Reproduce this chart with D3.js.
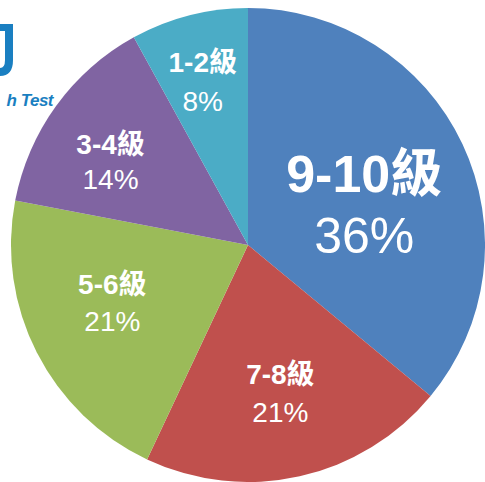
<!DOCTYPE html>
<html>
<head>
<meta charset="utf-8">
<script src="https://cdn.jsdelivr.net/npm/d3@7"></script>
<style>
  html, body { margin: 0; padding: 0; background: #fff; }
  svg { display: block; }
  text { font-family: "Liberation Sans", Arial, "Noto Sans CJK TC", sans-serif; }
</style>
</head>
<body>
<svg id="chart" width="485" height="482"></svg>
<script>
// grade bands, clockwise from 12 o'clock
const categories = ['9-10級', '7-8級', '5-6級', '3-4級', '1-2級'];
const shares = [36, 21, 21, 14, 8];
const pctLabels = ['36%', '21%', '21%', '14%', '8%'];

const colors = ['#4f81bd', '#c0504d', '#9bbb59', '#8064a2', '#4bacc6'];

const svg = d3.select('#chart');
const cx = 248, cy = 245, R = 237;

// label layout per slice: radius of label centre, nudge, font sizes, line gap
const labelCfg = [
  { r: 124, dx: 4, dy: 12, big: 52, small: 50, gap: 62 },
  { r: 153, dx: -1, dy: -1, big: 28, small: 28, gap: 38 },
  { r: 150, dx: -2, dy: -11, big: 28, small: 28, gap: 37 },
  { r: 160, dx: -8, dy: 10, big: 28, small: 28, gap: 35 },
  { r: 166, dx: -4, dy: -3, big: 28, small: 28, gap: 39 },
];

const data = categories.map((c, i) => ({ cat: c, value: shares[i], pct: pctLabels[i], i }));

const pie = d3.pie().sort(null).value(d => d.value);
const arc = d3.arc().innerRadius(0).outerRadius(R);

const g = svg.append('g').attr('transform', `translate(${cx},${cy})`);
const arcs = pie(data);

g.selectAll('path.slice')
  .data(arcs)
  .join('path')
  .attr('class', 'slice')
  .attr('d', arc)
  .attr('fill', d => colors[d.data.i]);

const labels = g.selectAll('g.label')
  .data(arcs)
  .join('g')
  .attr('class', 'label')
  .attr('transform', d => {
    const cfg = labelCfg[d.data.i];
    const c = d3.arc().innerRadius(cfg.r).outerRadius(cfg.r).centroid(d);
    return `translate(${c[0] + cfg.dx},${c[1] + cfg.dy})`;
  });

labels.append('text')
  .attr('text-anchor', 'middle')
  .attr('fill', '#fff')
  .attr('font-weight', 'bold')
  .attr('font-size', d => labelCfg[d.data.i].big)
  .attr('y', d => -labelCfg[d.data.i].gap / 2 + labelCfg[d.data.i].big * 0.36)
  .text(d => d.data.cat);

labels.append('text')
  .attr('text-anchor', 'middle')
  .attr('fill', '#fff')
  .attr('font-size', d => labelCfg[d.data.i].small)
  .attr('y', d => labelCfg[d.data.i].gap / 2 + labelCfg[d.data.i].small * 0.36)
  .text(d => d.data.pct);

// cropped logo in the top-left corner
const logo = svg.append('g').attr('fill', '#1a7fc1');
logo.append('path')
  .attr('d', 'M0,24 L13,24 L13,60 Q13,76 0,76 L0,68 Q5,68 5,60 L5,31 L0,31 Z');
logo.append('text')
  .attr('x', 53).attr('y', 106)
  .attr('text-anchor', 'end')
  .attr('font-size', 17)
  .attr('font-weight', 'bold')
  .attr('font-style', 'italic')
  .attr('letter-spacing', -0.5)
  .text('h Test');
</script>
</body>
</html>
